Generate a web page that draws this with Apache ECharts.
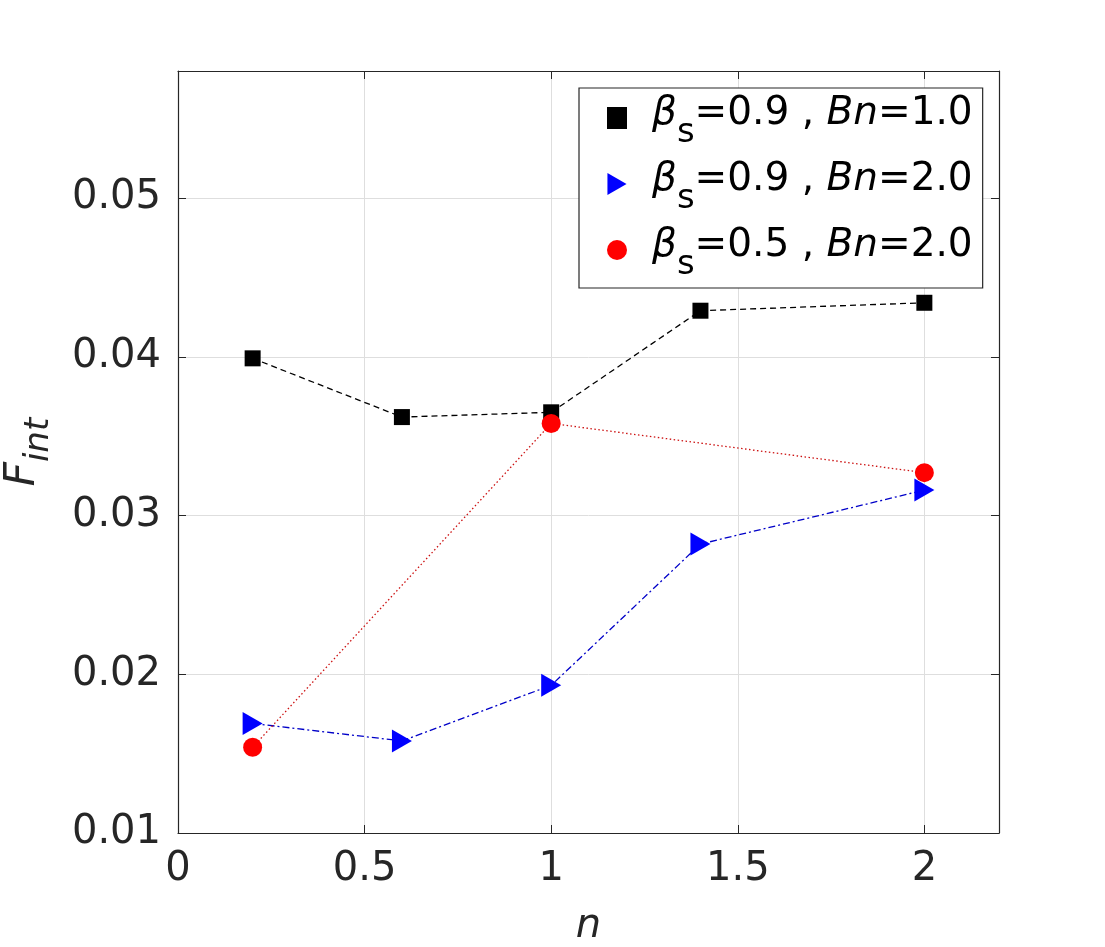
<!DOCTYPE html>
<html>
<head>
<meta charset="utf-8">
<script src="https://cdn.jsdelivr.net/npm/echarts@6/dist/echarts.min.js"></script>
<style>
  html, body { margin: 0; padding: 0; background: #fff; }
  #chart { width: 1105px; height: 947px; }
</style>
</head>
<body>
<div id="chart"></div>
<script>
  // values
  var nBlack = [0.2, 0.6, 1.0, 1.4, 2.0];
  var fBlack = [0.0399, 0.0362, 0.0365, 0.0429, 0.0434];
  var nBlue = [0.2, 0.6, 1.0, 1.4, 2.0];
  var fBlue = [0.0169, 0.0158, 0.0193, 0.0282, 0.0316];
  var nRed = [0.2, 1.0, 2.0];
  var fRed = [0.0154, 0.0358, 0.0327];

  var betaValues = ['0.9', '0.9', '0.5'];
  var bnValues = ['1.0', '2.0', '2.0'];
  var seriesNames = betaValues.map(function (b, i) {
    return 'βs=' + b + ' , Bn=' + bnValues[i];
  });

  var xTickLabels = ['0', '0.5', '1', '1.5', '2'];
  var yTickLabels = ['0.01', '0.02', '0.03', '0.04', '0.05'];

  var axisColor = '#262626';
  var gridColor = '#dedede';
  var fontFamily = 'DejaVu Sans';
  var triangleRight = 'path://M0,0L20,11.5L0,23Z';

  var chart = echarts.init(document.getElementById('chart'));

  function zip (xs, ys) {
    return xs.map(function (x, i) { return [x, ys[i]]; });
  }

  function legendText (name) {
    var i = seriesNames.indexOf(name);
    return '{b|β}{s|s}{t|=' + betaValues[i] + ' , }{i|Bn}{t|=' + bnValues[i] + '}';
  }

  var mainAxis = {
    axisLine: { onZero: false, lineStyle: { color: axisColor, width: 1.2 } },
    axisTick: { inside: true, length: 8, lineStyle: { color: axisColor } },
    splitLine: { show: true, lineStyle: { color: gridColor, width: 1 } }
  };
  var mirrorAxis = {
    axisLine: { onZero: false, lineStyle: { color: axisColor, width: 1.2 } },
    axisTick: { inside: true, length: 8, lineStyle: { color: axisColor } },
    axisLabel: { show: false },
    splitLine: { show: false }
  };

  var option = {
    backgroundColor: '#fff',
    animation: false,
    grid: { left: 178, right: 106, top: 71, bottom: 114, containLabel: false, outerBoundsMode: 'none' },
    xAxis: [Object.assign({
      type: 'value',
      position: 'bottom',
      min: 0,
      max: 2.2,
      interval: 0.5,
      name: 'n',
      nameLocation: 'middle',
      nameGap: 74,
      nameTextStyle: { fontFamily: fontFamily, fontSize: 40, fontStyle: 'italic', color: axisColor },
      axisLabel: {
        fontFamily: fontFamily, fontSize: 40, color: axisColor, margin: 17,
        showMaxLabel: false,
        formatter: function (v) { return xTickLabels[Math.round(v / 0.5)] || ''; }
      }
    }, mainAxis), Object.assign({
      type: 'value', position: 'top', min: 0, max: 2.2, interval: 0.5
    }, mirrorAxis)],
    yAxis: [Object.assign({
      type: 'value',
      position: 'left',
      min: 0.01,
      max: 0.058,
      interval: 0.01,
      name: '{f|F}{s|int}',
      nameLocation: 'middle',
      nameRotate: 90,
      nameGap: 130,
      nameTextStyle: {
        rich: {
          f: { fontFamily: fontFamily, fontSize: 42, fontStyle: 'italic', color: axisColor, lineHeight: 46, verticalAlign: 'top' },
          s: { fontFamily: fontFamily, fontSize: 34, fontStyle: 'italic', color: axisColor, lineHeight: 38, verticalAlign: 'top', padding: [20, 0, 0, 0] }
        }
      },
      axisLabel: {
        fontFamily: fontFamily, fontSize: 40, color: axisColor, margin: 17,
        showMaxLabel: false,
        formatter: function (v) { return yTickLabels[Math.round((v - 0.01) / 0.01)] || ''; }
      }
    }, mainAxis), Object.assign({
      type: 'value', position: 'right', min: 0.01, max: 0.058, interval: 0.01
    }, mirrorAxis)],
    legend: {
      orient: 'vertical',
      left: 579,
      top: 88,
      backgroundColor: '#fff',
      borderColor: axisColor,
      borderWidth: 1.2,
      borderRadius: 0,
      padding: [6, 10, 6, 28],
      itemWidth: 20,
      itemHeight: 22,
      itemGap: 10,
      data: [
        { name: seriesNames[0], icon: 'rect' },
        { name: seriesNames[1], icon: triangleRight },
        { name: seriesNames[2], icon: 'circle' }
      ],
      formatter: legendText,
      textStyle: {
        rich: {
          b: { fontFamily: fontFamily, fontSize: 39, fontStyle: 'italic', color: '#000', lineHeight: 48, verticalAlign: 'top', padding: [0, 0, 0, 20] },
          s: { fontFamily: fontFamily, fontSize: 34, color: '#000', lineHeight: 42, verticalAlign: 'top', padding: [22, 0, 0, 0] },
          t: { fontFamily: fontFamily, fontSize: 39, color: '#000', lineHeight: 48, verticalAlign: 'top' },
          i: { fontFamily: fontFamily, fontSize: 39, fontStyle: 'italic', color: '#000', lineHeight: 48, verticalAlign: 'top' }
        }
      }
    },
    series: [{
      name: seriesNames[0],
      type: 'line',
      data: zip(nBlack, fBlack),
      symbol: 'rect',
      symbolSize: 16,
      itemStyle: { color: '#000' },
      lineStyle: { color: '#000', width: 1.3, type: [6, 4] },
      z: 3
    }, {
      name: seriesNames[1],
      type: 'line',
      data: zip(nBlue, fBlue),
      symbol: triangleRight,
      symbolSize: [20, 23],
      itemStyle: { color: '#0000ff' },
      lineStyle: { color: '#0000c8', width: 1.3, type: [7, 3, 2, 3] },
      z: 4
    }, {
      name: seriesNames[2],
      type: 'line',
      data: zip(nRed, fRed),
      symbol: 'circle',
      symbolSize: 19,
      itemStyle: { color: '#ff0000' },
      lineStyle: { color: '#cc1111', width: 1.3, type: [1.5, 2.5] },
      z: 5
    }]
  };

  chart.setOption(option);
</script>
</body>
</html>
